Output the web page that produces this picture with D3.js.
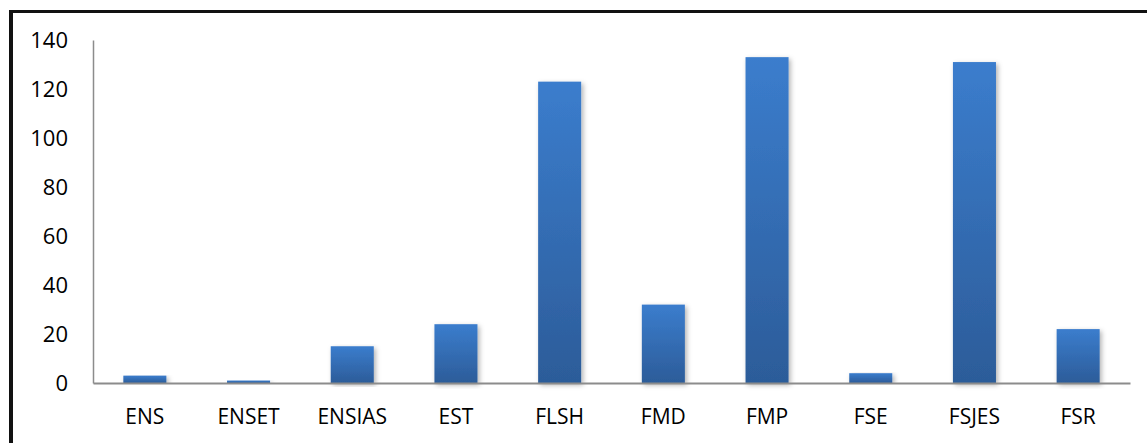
<!DOCTYPE html>
<html><head><meta charset="utf-8">
<script src="https://cdn.jsdelivr.net/npm/d3@7"></script>
<style>body{margin:0;background:#fff}svg{display:block}</style>
</head><body>
<script>
const categories = ["ENS","ENSET","ENSIAS","EST","FLSH","FMD","FMP","FSE","FSJES","FSR"];
const values = [3,1,15,24,123,32,133,4,131,22];
const yTicks = [0,20,40,60,80,100,120,140];

const W = 1147, H = 443;
const svg = d3.select("body").append("svg").attr("width", W).attr("height", H);
const defs = svg.append("defs");
const g = defs.append("linearGradient").attr("id","barGrad").attr("x1",0).attr("y1",0).attr("x2",0).attr("y2",1);
g.append("stop").attr("offset","0%").attr("stop-color","#3b7dcd");
g.append("stop").attr("offset","100%").attr("stop-color","#2c5c99");
const f = defs.append("filter").attr("id","sh").attr("x","-20%").attr("y","-5%").attr("width","150%").attr("height","115%");
f.append("feDropShadow").attr("dx",2).attr("dy",2).attr("stdDeviation",2.5).attr("flood-color","#000").attr("flood-opacity",0.3);

// frame
svg.append("rect").attr("x",9).attr("y",10).attr("width",4).attr("height",H-10).attr("fill","#111");
svg.append("rect").attr("x",9).attr("y",10).attr("width",W-9).attr("height",3).attr("fill","#111");

const x0 = 93, x1 = 1130, yTop = 40, yBase = 383;
const x = d3.scaleBand().domain(categories).range([x0,x1]).paddingInner(0.585).paddingOuter(0.2925);
const y = d3.scaleLinear().domain([0,140]).range([yBase,yTop]);

svg.append("g").selectAll("rect").data(values).join("rect")
  .attr("x",(d,i)=>x(categories[i]))
  .attr("y",d=>y(d))
  .attr("width",x.bandwidth())
  .attr("height",d=>yBase-y(d))
  .attr("fill","url(#barGrad)")
  .attr("filter","url(#sh)");

const font = "'Open Sans', 'Noto Sans', sans-serif";
const yAxis = svg.append("g").attr("transform",`translate(${x0},0)`)
  .call(d3.axisLeft(y).tickValues(yTicks).tickSize(0).tickPadding(25));
yAxis.select(".domain").attr("stroke","#8c8c8c").attr("stroke-width",1.5);
yAxis.selectAll("text").attr("font-family",font).attr("font-size",22).attr("fill","#000");

const xAxis = svg.append("g").attr("transform",`translate(0,${yBase})`)
  .call(d3.axisBottom(x).tickSize(0).tickPadding(26));
xAxis.select(".domain").attr("stroke","#8c8c8c").attr("stroke-width",2);
xAxis.selectAll("text").attr("font-family",font).attr("font-size",21).attr("fill","#000");
</script>
</body></html>
